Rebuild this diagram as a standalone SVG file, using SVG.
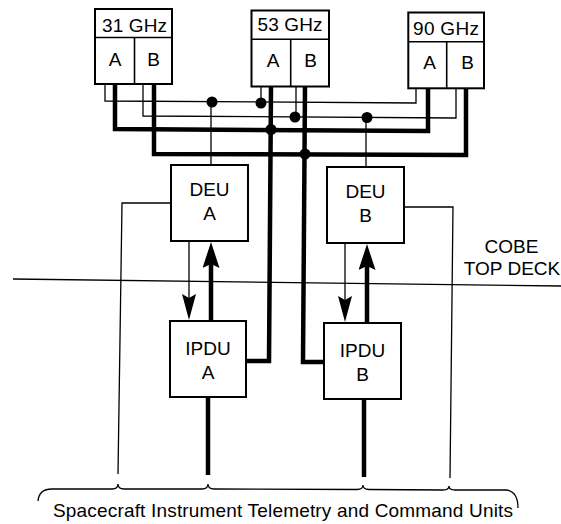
<svg xmlns="http://www.w3.org/2000/svg" width="561" height="524" viewBox="0 0 561 524">
<style>
  .box{fill:#fff;stroke:#000;stroke-width:2}
  .div{fill:none;stroke:#000;stroke-width:1.6}
  .t{font-family:"Liberation Sans",Arial,sans-serif;font-size:19px;fill:#000;text-anchor:middle}
  .thin{fill:none;stroke:#000;stroke-width:1.3}
  .thick{fill:none;stroke:#000;stroke-width:4.5}
  .dot{fill:#000}
</style>
<defs>
  <marker id="headThin" viewBox="0 0 26 14" refX="16" refY="7" markerWidth="26" markerHeight="14" markerUnits="userSpaceOnUse" orient="auto">
    <path d="M0,0 L26,7 L0,14 L4,7 Z" fill="#000"/>
  </marker>
  <marker id="headThick" viewBox="0 0 26 17" refX="16" refY="8.5" markerWidth="26" markerHeight="17" markerUnits="userSpaceOnUse" orient="auto">
    <path d="M0,0 L26,8.5 L0,17 L4,8.5 Z" fill="#000"/>
  </marker>
</defs>
<rect width="561" height="524" fill="#fff"/>

<g id="connectors">
  <polyline class="thin" points="105,84 105,101 416,103 416,88"/>
  <line class="thin" x1="261" y1="86" x2="261" y2="103"/>
  <line class="thin" x1="211" y1="102" x2="211" y2="165"/>
  <polyline class="thin" points="143,84 143,116 456,118 456,88"/>
  <line class="thin" x1="296" y1="86" x2="296" y2="117"/>
  <line class="thin" x1="366" y1="117" x2="366" y2="167"/>
  <polyline class="thick" points="115,84 115,129 428,131 428,88"/>
  <polyline class="thick" points="271,86 269,361 246,361"/>
  <polyline class="thick" points="154,84 154,154 466,155 466,88"/>
  <polyline class="thick" points="305,86 303,362 324,362"/>
  <circle class="dot" cx="212" cy="102" r="5.5"/>
  <circle class="dot" cx="261" cy="103" r="5.5"/>
  <circle class="dot" cx="295" cy="117" r="5.5"/>
  <circle class="dot" cx="367" cy="117.5" r="5.5"/>
  <circle class="dot" cx="271" cy="129.5" r="5.5"/>
  <circle class="dot" cx="305" cy="154" r="5.5"/>
  <line class="thin" x1="189" y1="241" x2="189" y2="310" marker-end="url(#headThin)"/>
  <line class="thick" x1="211" y1="321" x2="211" y2="252" marker-end="url(#headThick)"/>
  <line class="thin" x1="345" y1="243" x2="345" y2="312" marker-end="url(#headThin)"/>
  <line class="thick" x1="367" y1="323" x2="367" y2="254" marker-end="url(#headThick)"/>
  <line class="thick" x1="208" y1="397" x2="208" y2="475"/>
  <line class="thick" x1="364" y1="399" x2="364" y2="477"/>
  <polyline class="thin" points="171,203 122,203 118,474"/>
  <polyline class="thin" points="404,207 453,207 450,478"/>
  <line class="thin" x1="13" y1="279" x2="561" y2="286"/>
  <path class="thin" d="M38,501 Q39,489 52,489 L112,489 Q118,489 118,484 Q118,489 124,489 L202,489 Q208,489 208,484 Q208,489 214,489 L357,489.5 Q363,489.5 363,485 Q363,489.5 369,489.5 L443,490 Q449,490 449,486 Q449,490 455,490 L506,490 Q518,491 518,508"/>
</g>

<g id="box31">
  <rect class="box" x="95" y="9" width="77" height="75"/>
  <line class="div" x1="95" y1="37.5" x2="172" y2="37.5"/>
  <line class="div" x1="134.5" y1="37.5" x2="134.5" y2="84"/>
  <text class="t" x="134.5" y="32" textLength="65" lengthAdjust="spacing">31 GHz</text>
  <text class="t" x="115" y="66">A</text>
  <text class="t" x="153.5" y="66">B</text>
</g>
<g id="box53">
  <rect class="box" x="251.5" y="10.5" width="77.5" height="76"/>
  <line class="div" x1="251.5" y1="39.3" x2="329" y2="39.3"/>
  <line class="div" x1="290.7" y1="39.3" x2="290.7" y2="86.5"/>
  <text class="t" x="290" y="31" textLength="65" lengthAdjust="spacing">53 GHz</text>
  <text class="t" x="273" y="67">A</text>
  <text class="t" x="310.5" y="67">B</text>
</g>
<g id="box90">
  <rect class="box" x="408.3" y="12.5" width="75.7" height="75.8"/>
  <line class="div" x1="408.3" y1="41.7" x2="484" y2="41.7"/>
  <line class="div" x1="446.7" y1="41.7" x2="446.7" y2="88.3"/>
  <text class="t" x="446" y="34.5" textLength="66" lengthAdjust="spacing">90 GHz</text>
  <text class="t" x="429.5" y="69">A</text>
  <text class="t" x="467.5" y="69">B</text>
</g>
<g id="deuA">
  <rect class="box" x="171" y="165" width="77" height="76"/>
  <text class="t" x="209.5" y="196">DEU</text>
  <text class="t" x="209.5" y="220">A</text>
</g>
<g id="deuB">
  <rect class="box" x="327" y="167" width="77" height="76"/>
  <text class="t" x="365.5" y="198">DEU</text>
  <text class="t" x="365.5" y="222">B</text>
</g>
<g id="ipduA">
  <rect class="box" x="170" y="321" width="76" height="76"/>
  <text class="t" x="208" y="355">IPDU</text>
  <text class="t" x="208" y="379">A</text>
</g>
<g id="ipduB">
  <rect class="box" x="324" y="323" width="77" height="76"/>
  <text class="t" x="362.5" y="357">IPDU</text>
  <text class="t" x="362.5" y="381">B</text>
</g>
<g id="cobeTopDeck">
  <text class="t" x="511.5" y="253">COBE</text>
  <text class="t" x="512" y="274.5">TOP DECK</text>
</g>
<g id="spacecraftUnits">
  <text class="t" x="283" y="517" textLength="460" lengthAdjust="spacing">Spacecraft Instrument Telemetry and Command Units</text>
</g>
</svg>
